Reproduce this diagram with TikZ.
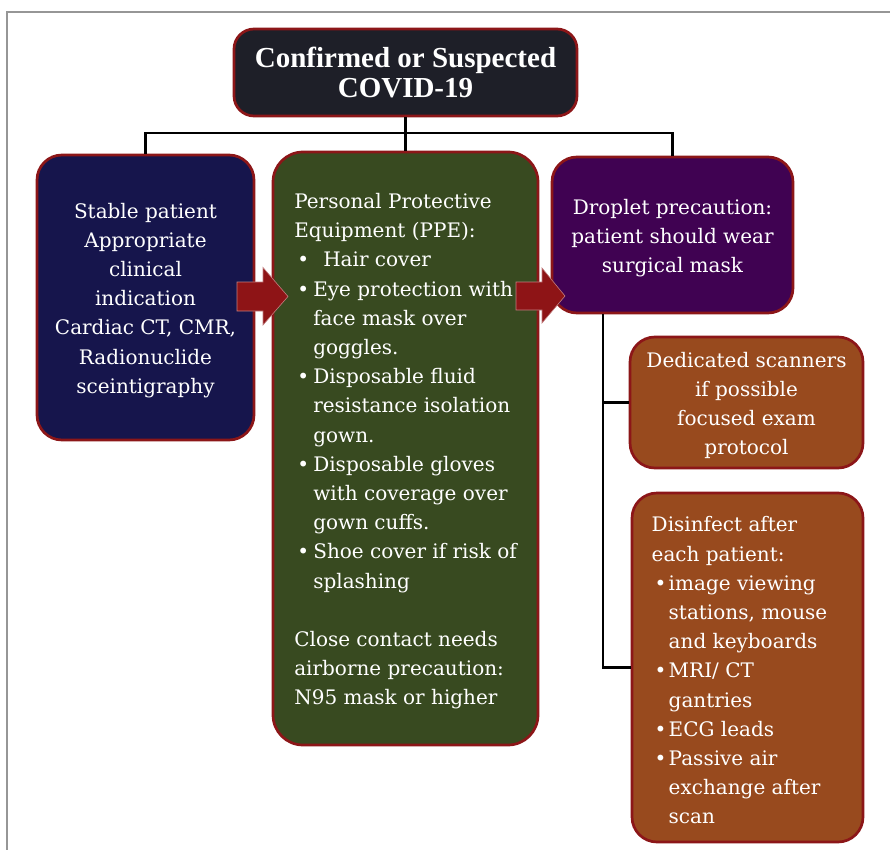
\documentclass[tikz,border=0pt]{standalone}
\usepackage{fontspec}
\setmainfont{DejaVu Serif}
\newfontfamily\titlefont{Liberation Serif}
\definecolor{framegray}{RGB}{150,150,150}
\definecolor{boxborder}{RGB}{140,22,24}
\definecolor{arrowred}{RGB}{142,20,22}
\definecolor{topfill}{RGB}{30,31,40}
\definecolor{navyfill}{RGB}{22,21,76}
\definecolor{greenfill}{RGB}{56,74,32}
\definecolor{purplefill}{RGB}{64,2,82}
\definecolor{orangefill}{RGB}{152,74,30}
\newcommand\blt[1]{\makebox[#1][l]{\hspace{3pt}\textbullet}}
\newcommand\topstrut{\rule{0pt}{21pt}}
\begin{document}
\begin{tikzpicture}[x=1pt,y=-1pt,
  box/.style={draw=boxborder, line width=2.7pt, rounded corners=25pt, text=white,
    font=\fontsize{20}{29.2}\selectfont, inner sep=0pt},
  conn/.style={draw=black, line width=2.3pt},
  blockarrow/.style={fill=arrowred, draw=arrowred!55!white, line width=0.6pt}]
\useasboundingbox (0,0) rectangle (890,850);
\draw[framegray, line width=1.8pt] (890,12) -- (7,12) -- (7,850);

% nodes
\node[box, fill=topfill, rounded corners=20pt, minimum width=343pt, minimum height=87pt,
      align=center, font=\titlefont\bfseries\fontsize{29}{30}\selectfont] (top) at (405.5,72.5)
      {Confirmed or Suspected\\COVID-19};
\coordinate (bus) at (405.5,133);
\coordinate (tx) at (603,0);

\node[box, fill=navyfill, minimum width=217pt, minimum height=285pt, align=center] (left) at (145.5,297.5)
  {\topstrut Stable patient\\Appropriate\\clinical\\indication\\Cardiac CT, CMR,\\Radionuclide\\sceintigraphy};

\node[box, fill=greenfill, rounded corners=30pt, minimum width=265pt, minimum height=593pt, align=left] (mid) at (405.5,448.5)
  {\topstrut Personal Protective\\
   Equipment (PPE):\\
   \blt{29pt}Hair cover\\
   \blt{19pt}Eye protection with\\
   \hspace*{19pt}face mask over\\
   \hspace*{19pt}goggles.\\
   \blt{19pt}Disposable fluid\\
   \hspace*{19pt}resistance isolation\\
   \hspace*{19pt}gown.\\
   \blt{19pt}Disposable gloves\\
   \hspace*{19pt}with coverage over\\
   \hspace*{19pt}gown cuffs.\\
   \blt{19pt}Shoe cover if risk of\\
   \hspace*{19pt}splashing\\
   \mbox{}\\
   Close contact needs\\
   airborne precaution:\\
   N95 mask or higher};

\node[box, fill=purplefill, minimum width=241pt, minimum height=156pt, align=center] (right) at (672.5,235)
  {\topstrut Droplet precaution:\\patient should wear\\surgical mask};

\node[box, fill=orangefill, minimum width=233pt, minimum height=131pt, align=center] (o1) at (746.5,402.5)
  {\topstrut Dedicated scanners\\if possible\\focused exam\\protocol};

\node[box, fill=orangefill, minimum width=231pt, minimum height=349pt, align=left] (o2) at (747.5,667.5)
  {\topstrut Disinfect after\\
   each patient:\\
   \blt{17pt}image viewing\\
   \hspace*{17pt}stations, mouse\makebox[16pt]{}\\
   \hspace*{17pt}and keyboards\\
   \blt{17pt}MRI/ CT\\
   \hspace*{17pt}gantries\\
   \blt{17pt}ECG leads\\
   \blt{17pt}Passive air\\
   \hspace*{17pt}exchange after\\
   \hspace*{17pt}scan};

% connectors
\draw[conn] (top.south) -- (mid.north);
\draw[conn] (left.north) -- (left.north |- bus) -- (right.north |- bus) -- (right.north);
\draw[conn] (right.south -| tx) |- (o2.west);
\draw[conn] (o1.west) -- (o1.west -| tx);

% block arrows
\coordinate (a1) at (237,296.5);
\draw[blockarrow] (a1) ++(0,-14.5) -- ++(26,0) -- ++(0,-14.5) -- ++(25,29) -- ++(-25,28.5) -- ++(0,-14) -- ++(-26,0) -- cycle;
\coordinate (a2) at (516,296);
\draw[blockarrow] (a2) ++(0,-14) -- ++(26,0) -- ++(0,-14) -- ++(23,28) -- ++(-23,27) -- ++(0,-13) -- ++(-26,0) -- cycle;
\end{tikzpicture}
\end{document}
